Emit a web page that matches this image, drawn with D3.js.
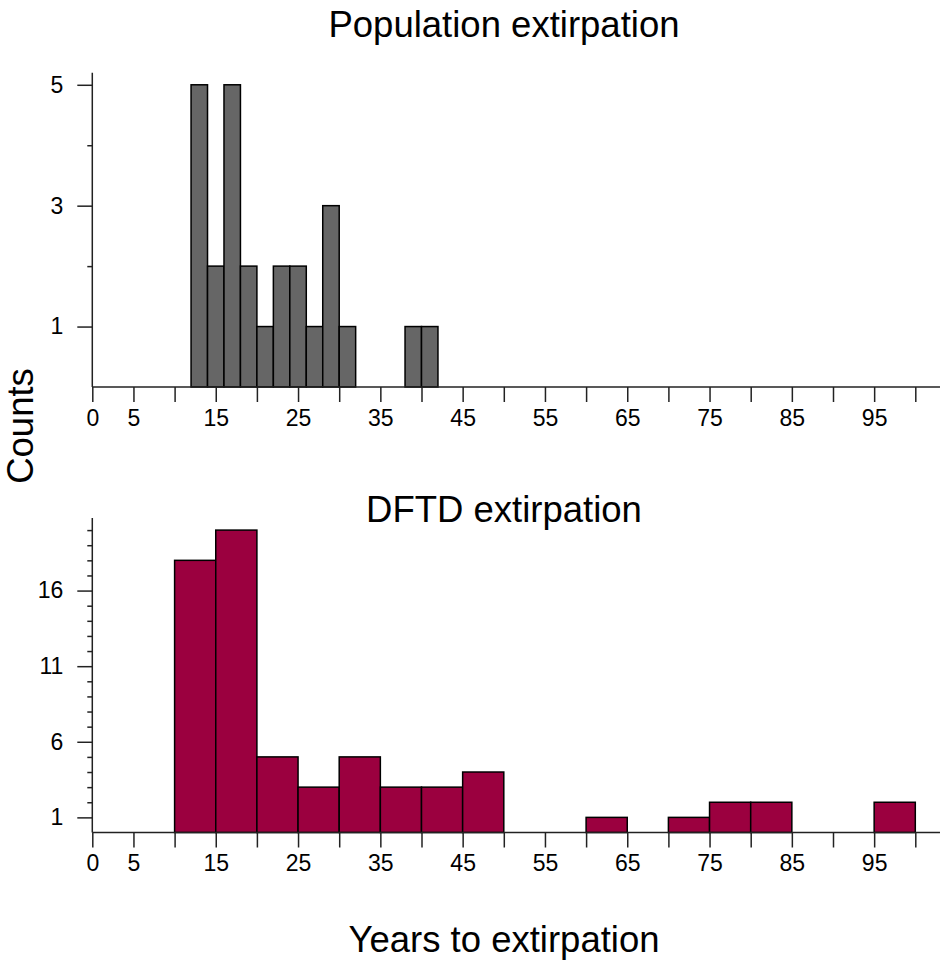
<!DOCTYPE html>
<html lang="en">
<head>
    <meta charset="UTF-8">
    <title>Years to extirpation</title>
    <script src="https://cdn.jsdelivr.net/npm/d3@7.8.5/dist/d3.min.js"></script>
    <style>
        * { margin: 0; padding: 0; }
        body { background: #fff; font-family: 'Liberation Sans', Arial, sans-serif; }
        .axis path, .axis line { stroke: #222; stroke-width: 1.5px; }
        .axis text { font-family: 'Liberation Sans', Arial, sans-serif; font-size: 23px; fill: #000; }
        .title { font-size: 36.5px; fill: #000; }
    </style>
</head>
<body>
<div id="chart"></div>
<script>
    // histogram bins (years) and counts
    const popEdges = [12, 14, 16, 18, 20, 22, 24, 26, 28, 30, 32, 34, 36, 38, 40, 42];
    const popCounts = [5, 2, 5, 2, 1, 2, 2, 1, 3, 1, 0, 0, 0, 1, 1];

    const dftdEdges = [10, 15, 20, 25, 30, 35, 40, 45, 50, 55, 60, 65, 70, 75, 80, 85, 90, 95, 100];
    const dftdCounts = [18, 20, 5, 3, 5, 3, 3, 4, 0, 0, 1, 0, 1, 2, 2, 0, 0, 2];

    // axis ticks
    const xTicks = d3.range(0, 101, 5);
    const xLabels = [0, 5, 15, 25, 35, 45, 55, 65, 75, 85, 95];
    const popYTicks = [1, 2, 3, 4, 5];
    const popYLabels = [1, 3, 5];
    const dftdYTicks = d3.range(1, 21);
    const dftdYLabels = [1, 6, 11, 16];

    const width = 942, height = 960;

    const svg = d3.select('#chart').append('svg')
        .attr('width', width)
        .attr('height', height);

    const x = d3.scaleLinear().domain([0, 100]).range([92.3, 915.3]);

    function panel(opts) {
        const y = d3.scaleLinear().domain([0, opts.yMax]).range([opts.base, opts.top]);
        const g = svg.append('g');

        const bins = opts.counts.map((c, i) => ({x0: opts.edges[i], x1: opts.edges[i + 1], n: c}))
            .filter(d => d.n > 0);

        g.selectAll('rect')
            .data(bins)
            .enter()
            .append('rect')
            .attr('x', d => x(d.x0))
            .attr('y', d => y(d.n))
            .attr('width', d => x(d.x1) - x(d.x0))
            .attr('height', d => y(0) - y(d.n))
            .attr('fill', opts.color)
            .attr('stroke', '#000')
            .attr('stroke-width', 1.5);

        // x axis: baseline runs past 100
        const xAxis = g.append('g')
            .attr('class', 'axis')
            .attr('transform', `translate(0,${opts.base})`)
            .call(d3.axisBottom(x)
                .tickValues(xTicks)
                .tickSize(15)
                .tickPadding(opts.xPad)
                .tickFormat(d => xLabels.includes(d) ? d : ''));
        xAxis.select('.domain').remove();
        xAxis.append('line')
            .attr('x1', x(0)).attr('x2', x(103))
            .attr('y1', 0).attr('y2', 0);

        // y axis with minor ticks
        const yAxis = g.append('g')
            .attr('class', 'axis')
            .attr('transform', `translate(${x(0)},0)`)
            .call(d3.axisLeft(y)
                .tickValues(opts.yTicks)
                .tickSize(0)
                .tickPadding(29)
                .tickFormat(d => opts.yLabels.includes(d) ? d : ''));
        yAxis.select('.domain').remove();
        yAxis.selectAll('.tick line')
            .attr('x2', d => opts.yLabels.includes(d) ? -15 : -5);
        yAxis.append('line')
            .attr('x1', 0).attr('x2', 0)
            .attr('y1', opts.top).attr('y2', opts.base);

        svg.append('text')
            .attr('class', 'title')
            .attr('x', 504)
            .attr('y', opts.titleY)
            .attr('text-anchor', 'middle')
            .text(opts.title);
    }

    panel({
        edges: popEdges, counts: popCounts, color: '#666666',
        base: 387, top: 72.7, yMax: 5.2,
        yTicks: popYTicks, yLabels: popYLabels,
        xPad: 8, title: 'Population extirpation', titleY: 37
    });

    panel({
        edges: dftdEdges, counts: dftdCounts, color: '#9b003f',
        base: 832.5, top: 518, yMax: 20.8,
        yTicks: dftdYTicks, yLabels: dftdYLabels,
        xPad: 7, title: 'DFTD extirpation', titleY: 522
    });

    svg.append('text')
        .attr('class', 'title')
        .attr('transform', 'translate(33,426) rotate(-90)')
        .attr('text-anchor', 'middle')
        .text('Counts');

    svg.append('text')
        .attr('class', 'title')
        .attr('x', 504)
        .attr('y', 952)
        .attr('text-anchor', 'middle')
        .text('Years to extirpation');
</script>
</body>
</html>
